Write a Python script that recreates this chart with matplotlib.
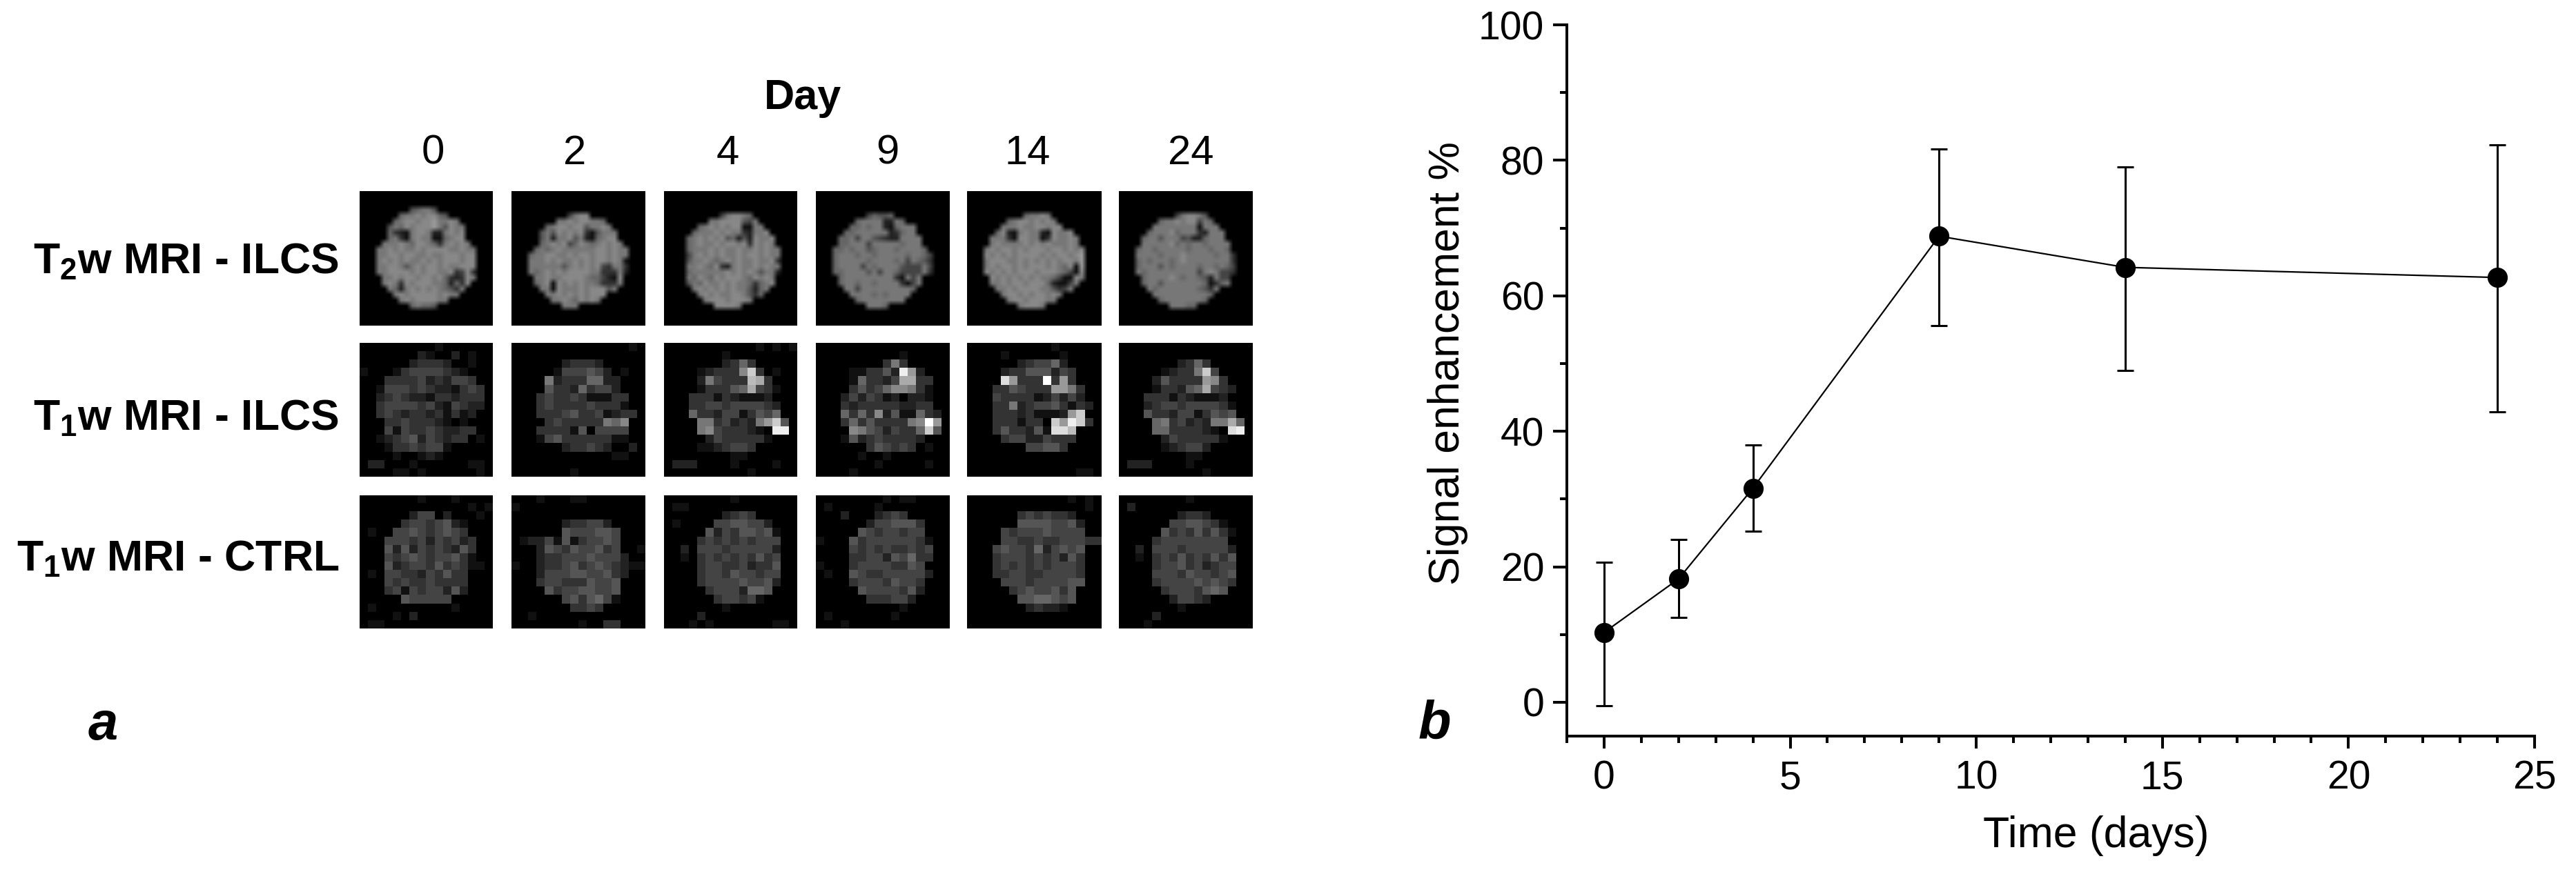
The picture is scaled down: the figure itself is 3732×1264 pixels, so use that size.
import matplotlib
matplotlib.use("Agg")
import matplotlib.pyplot as plt
import numpy as np
from matplotlib.ticker import MultipleLocator

plt.rcParams['font.family'] = ['Liberation Sans', 'DejaVu Sans']
plt.rcParams['mathtext.fontset'] = 'custom'
plt.rcParams['mathtext.rm'] = 'Liberation Sans'
plt.rcParams['mathtext.default'] = 'regular'

# panel b
days = [0, 2, 4, 9, 14, 24]
enhancement = [10.3, 18.2, 31.6, 68.8, 64.2, 62.7]
err_low = [-0.5, 12.5, 25.2, 55.6, 49.0, 42.9]
err_high = [20.7, 24.0, 38.0, 81.7, 79.0, 82.3]

day_labels = ['0', '2', '4', '9', '14', '24']
row_labels = ['T$_2$w MRI - ILCS', 'T$_1$w MRI - ILCS', 'T$_1$w MRI - CTRL']

# panel a: grey levels read by eye, one hex digit per cell (0 black, f white)
t2_day0 = [
    "000000000000000000000000",
    "000000000000000000000000",
    "000000000000000000000000",
    "000000000567750000000000",
    "000000067787886500000000",
    "000000678878897787000000",
    "000005768788897587700000",
    "000006321788722787800000",
    "000006731787711678800000",
    "000077787688763787870000",
    "000778787787888877877000",
    "000778878877877888788000",
    "000787878778787888788000",
    "000778875787887877888000",
    "000778888787887783483000",
    "000077878878878632387000",
    "000078738788877626380000",
    "000007627878787653700000",
    "000000787888887877000000",
    "000000078788887700000000",
    "000000000676650000000000",
    "000000000000000000000000",
    "000000000000000000000000",
    "000000000000000000000000",
]
t2_day2 = [
    "000000000000000000000000",
    "000000000000000000000000",
    "000000000000000000000000",
    "000000000000000000000000",
    "000000000047880000000000",
    "000000007787887760000000",
    "000000678878857787000000",
    "000005758787831577700000",
    "000005727785721678800000",
    "000006787846876787870000",
    "000067678777777887877000",
    "000677887787887887877000",
    "000777878778787887871000",
    "000777777578787843773000",
    "000767878788887733372000",
    "000077877888876642180000",
    "000067818787877633370000",
    "000007718777878885700000",
    "000000778787878880000000",
    "000000077876878700000000",
    "000000000777000000000000",
    "000000000000000000000000",
    "000000000000000000000000",
    "000000000000000000000000",
]
t2_day4 = [
    "000000000000000000000000",
    "000000000000000000000000",
    "000000000000000000000000",
    "000000000000000000000000",
    "000000000047887600000000",
    "000000007788885470000000",
    "000000678787881177000000",
    "000006777878773277800000",
    "000067878785625287780000",
    "000067877878878387870000",
    "000067778787787787877000",
    "000047878787787887877000",
    "000057787678787787783000",
    "000077876832787787877000",
    "000067777778787875772000",
    "000076876878887687870000",
    "000057687787877636780000",
    "000007878787877526700000",
    "000000787877887536000000",
    "000000078887888700000000",
    "000000000888870000000000",
    "000000000000000000000000",
    "000000000000000000000000",
    "000000000000000000000000",
]
t2_day9 = [
    "000000000000000000000000",
    "000000000000000000000000",
    "000000000000000000000000",
    "000000000000000000000000",
    "000000000465560000000000",
    "000000067777227600000000",
    "000000667677216777000000",
    "000006677777723677000000",
    "000066747754322777700000",
    "000066777477777677700000",
    "000667677567776777760000",
    "000677767767777767764000",
    "000677777677776747653000",
    "000677774767777544474000",
    "000667777574776444473000",
    "000067777777773174700000",
    "000067767767777314700000",
    "000007747777777776000000",
    "000000777767677770000000",
    "000000067777777700000000",
    "000000000777600000000000",
    "000000000000000000000000",
    "000000000000000000000000",
    "000000000000000000000000",
]
t2_day14 = [
    "000000000000000000000000",
    "000000000000000000000000",
    "000000000000000000000000",
    "000000000000000000000000",
    "000000000067787000000000",
    "000000067887878700000000",
    "000000777877887880000000",
    "000006821787721877800000",
    "000077731887713877870000",
    "000078777787878777870000",
    "000787887878887887878000",
    "000878787888878788789000",
    "000788877878787878879000",
    "000787887878887876819000",
    "000878787888788876418000",
    "000087878787877641187000",
    "000077878878886211470000",
    "000007787888877534700000",
    "000000788787887870000000",
    "000000078878887700000000",
    "000000000788870000000000",
    "000000000000000000000000",
    "000000000000000000000000",
    "000000000000000000000000",
]
t2_day24 = [
    "000000000000000000000000",
    "000000000000000000000000",
    "000000000000000000000000",
    "000000000000000000000000",
    "000000000047887500000000",
    "000000067787884760000000",
    "000000777777771777000000",
    "000006777867773277700000",
    "000067757774522677700000",
    "000077777867677677770000",
    "000677677777677767760000",
    "000777767778777776773000",
    "000676777678777777773000",
    "000677757677776776764000",
    "000767777777774787443000",
    "000067777876776527440000",
    "000067757777777613670000",
    "000007677777776537000000",
    "000000777777777760000000",
    "000000067777777600000000",
    "000000000777660000000000",
    "000000000000000000000000",
    "000000000000000000000000",
    "000000000000000000000000",
]

t1_ilcs_day0 = [
    "0000000001000000",
    "0000000210020100",
    "0000002333200100",
    "1000134444321000",
    "0003333423244300",
    "0014443432213430",
    "0023432213323330",
    "0034444342143220",
    "0034323323131200",
    "0003343332101000",
    "0004143343223300",
    "0012345243233010",
    "0001334344100000",
    "0000100121000000",
    "0220001000000110",
    "0000110100000010",
]
t1_ilcs_day2 = [
    "0000000000000010",
    "0000000000000000",
    "0000002333200000",
    "0000014445420100",
    "0000723336622000",
    "0000533263442000",
    "0003433431113300",
    "0003433334333100",
    "0003334533412330",
    "0000343333376800",
    "0003333150444400",
    "0001453333331100",
    "0000002334320020",
    "0000000000001100",
    "0000000000000000",
    "0000000100000000",
]
t1_ilcs_day4 = [
    "0000000000010101",
    "0000000100000000",
    "0000000236300000",
    "0000123338c30100",
    "0000274333ba3000",
    "0000133356a43100",
    "0003331321112000",
    "0003344344443200",
    "0006332441354600",
    "0000773423279c50",
    "0000784333210ee0",
    "0000024333331000",
    "0000112344300000",
    "0000000011000000",
    "0222000010000100",
    "0000000000100000",
]
t1_ilcs_day9 = [
    "0000000000000000",
    "0000000000100000",
    "0000000037300000",
    "0000113352e92000",
    "0000163324aa3300",
    "0000353468873100",
    "0002424312022100",
    "0003233333223300",
    "0006363825116320",
    "0003635333378f90",
    "0000875424336c50",
    "0001523433332000",
    "0000003543430100",
    "0000010010000000",
    "0000000100000100",
    "0000100000000000",
]
t1_ilcs_day14 = [
    "0000000000100000",
    "0000100000010000",
    "0000002344620000",
    "0000233555243000",
    "0000d9333f393000",
    "0003354333997300",
    "0004333312424200",
    "0003372344531320",
    "0003332311129c00",
    "0003331330c9ec30",
    "0003533251ddb000",
    "0000344224333000",
    "0000000445530000",
    "0000000000000000",
    "0000000000000000",
    "0000000000000110",
]
t1_ilcs_day24 = [
    "0000000000000000",
    "0000000000000000",
    "0000000236300000",
    "0000012337c40000",
    "0000253333983000",
    "0000133256a43200",
    "0003331321112000",
    "0002344344443100",
    "0005332441354500",
    "0000673423277a60",
    "0000663333210de0",
    "0000024333331000",
    "0000012344200000",
    "0000000011000000",
    "0222000010000000",
    "0000000000100000",
]
t1_ctrl_day0 = [
    "0000000100010000",
    "0000000000000101",
    "0000002440200010",
    "0000034434521000",
    "0100445434543000",
    "0004443424342300",
    "0005252434325300",
    "0004345434453100",
    "0005234435343110",
    "0104433243533000",
    "0004343343333000",
    "0003414344252000",
    "0000054444400000",
    "0100000000010000",
    "0000102000000000",
    "0110000000000000",
]
t1_ctrl_day2 = [
    "0001000110000000",
    "1000000000000000",
    "0000000000000000",
    "0000002334420000",
    "0000005444554000",
    "0122415134454000",
    "0002543544534001",
    "0002334445444200",
    "1002334534543211",
    "0002444554453200",
    "0003443335445000",
    "0000534455445000",
    "0000004535641000",
    "0000000334300000",
    "0010000000000000",
    "0000000010033000",
]
t1_ctrl_day4 = [
    "0000000010000000",
    "0110000000000000",
    "0000000234300000",
    "0100004455442000",
    "0000052435545100",
    "0000343434344400",
    "0020444344444200",
    "0010343434353400",
    "0000344334233500",
    "0000344354434400",
    "0000344445445200",
    "0000034442665000",
    "0000003443410000",
    "0000000100000000",
    "0000200000000000",
    "0001010000000110",
]
t1_ctrl_day9 = [
    "0000000010110000",
    "0100000100000000",
    "0002000234300000",
    "0000002445553000",
    "0000054344344000",
    "1000534444443100",
    "0000434343343400",
    "0000334425463300",
    "1000344443354000",
    "0100543344444200",
    "0000344435443000",
    "0000054444352000",
    "0000003334420000",
    "0000000000100000",
    "0100000001000000",
    "0001000000000000",
]
t1_ctrl_day14 = [
    "0000000000001010",
    "0000000000000010",
    "0000003434332000",
    "0000005555445200",
    "0000434445444400",
    "0000443343344433",
    "0004544362454500",
    "0003444343425300",
    "0003434343444300",
    "0003344334444300",
    "0000444344445500",
    "0000034544535000",
    "0000005566545000",
    "0000000232210000",
    "0000000000000000",
    "0000000000000000",
]
t1_ctrl_day24 = [
    "0000000010000000",
    "0200000000000000",
    "0000000233200000",
    "0000004455431000",
    "0000053435353100",
    "0000344444444000",
    "0020444344444200",
    "0010343534353500",
    "0000344534234400",
    "0000444354434500",
    "0000344445454300",
    "0000034443565000",
    "0000002443200000",
    "0000000100000000",
    "0000200000000000",
    "0001000000000000",
]

grids = [
    [t2_day0, t2_day2, t2_day4, t2_day9, t2_day14, t2_day24],
    [t1_ilcs_day0, t1_ilcs_day2, t1_ilcs_day4, t1_ilcs_day9, t1_ilcs_day14, t1_ilcs_day24],
    [t1_ctrl_day0, t1_ctrl_day2, t1_ctrl_day4, t1_ctrl_day9, t1_ctrl_day14, t1_ctrl_day24],
]

W, H = 3732, 1264


def px_axes(x0, y0, x1, y1):
    return fig.add_axes([x0 / W, 1 - y1 / H, (x1 - x0) / W, (y1 - y0) / H])


def to_array(rows):
    return np.array([[int(c, 16) * 17 for c in r] for r in rows])


fig = plt.figure(figsize=(W / 100, H / 100), dpi=100, facecolor='white')

col_x = [(521, 714), (741, 934), (962, 1155), (1182, 1376), (1401, 1596), (1621, 1815)]
row_y = [(277, 472), (497, 691), (718, 911)]
interp = ['bilinear', 'nearest', 'nearest']

for r in range(3):
    for c in range(6):
        ax = px_axes(col_x[c][0], row_y[r][0], col_x[c][1], row_y[r][1])
        ax.imshow(to_array(grids[r][c]), cmap='gray', vmin=0, vmax=255,
                  aspect='auto', interpolation=interp[r])
        ax.axis('off')

# text of panel a
day_x = [627, 833, 1054, 1286, 1489, 1725]
for x, lab in zip(day_x, day_labels):
    fig.text(x / W, 1 - 238 / H, lab, fontsize=43, ha='center', va='baseline')
fig.text(1163 / W, 1 - 158 / H, 'Day', fontsize=44, fontweight='bold', ha='center', va='baseline')

label_y = [396, 623, 827]
for y, lab in zip(label_y, row_labels):
    fig.text(491 / W, 1 - y / H, lab, fontsize=45, fontweight='bold', ha='right', va='baseline')

fig.text(128 / W, 1 - 1072 / H, 'a', fontsize=56, fontweight='bold', style='italic', va='baseline')
fig.text(2055 / W, 1 - 1071 / H, 'b', fontsize=56, fontweight='bold', style='italic', va='baseline')

# panel b
ax = px_axes(2270, 36, 3672, 1067)
y = np.array(enhancement)
yerr = [y - np.array(err_low), np.array(err_high) - y]
ax.errorbar(days, enhancement, yerr=yerr, color='black', marker='o', markersize=20, lw=1.6,
            elinewidth=2.2, capsize=8.5, capthick=2.2, clip_on=False)
ax.set_xlim(-1, 25)
ax.set_ylim(-5, 100)
ax.xaxis.set_major_locator(MultipleLocator(5))
ax.xaxis.set_minor_locator(MultipleLocator(1))
ax.yaxis.set_major_locator(MultipleLocator(20))
ax.yaxis.set_minor_locator(MultipleLocator(10))
ax.spines['top'].set_visible(False)
ax.spines['right'].set_visible(False)
ax.spines['left'].set_linewidth(2.9)
ax.spines['bottom'].set_linewidth(2.9)
ax.tick_params(which='major', length=14.5, width=2.9, labelsize=41, pad=9)
ax.tick_params(which='minor', length=7.5, width=2.9)
ax.tick_params(axis='x', which='major', length=13, pad=12)
ax.set_xlabel('Time (days)', fontsize=45)
ax.set_ylabel('Signal enhancement %', fontsize=45)
ax.xaxis.set_label_coords((3037 - 2270) / 1402, -(1182 - 1067) / 1031)
ax.yaxis.set_label_coords((2127 - 2270) / 1402, (1067 - 526) / 1031)

fig.savefig('out.png', dpi=100)
